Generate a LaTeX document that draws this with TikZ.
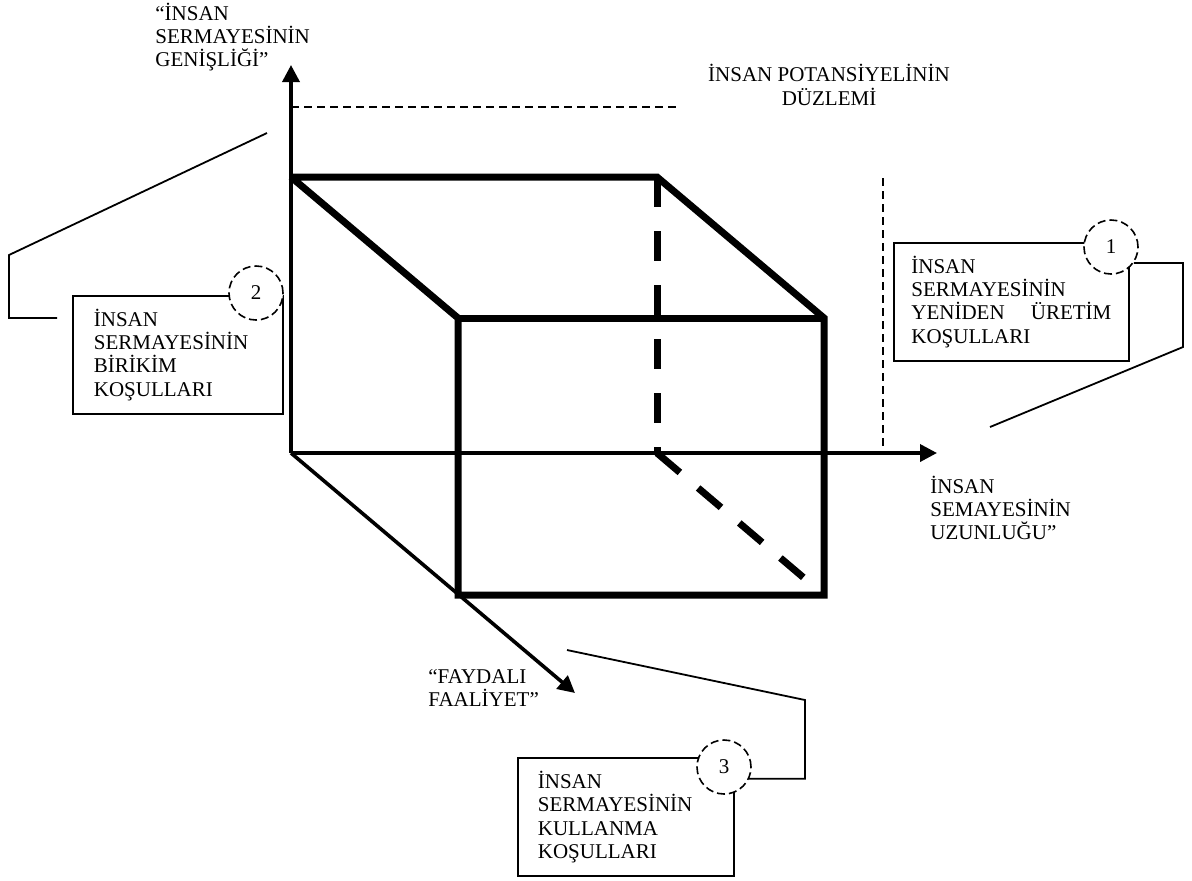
\documentclass[tikz,border=0pt]{standalone}
\usepackage{fontspec}
\setmainfont{Liberation Serif}
\usetikzlibrary{arrows.meta}

\begin{document}
\begin{tikzpicture}[x=0.5pt,y=-0.5pt,
    axis/.style={line width=1.8pt,-{Triangle[length=8.5pt,width=8.5pt]}},
    edge/.style={line width=3.5pt},
    hidden/.style={line width=3.5pt,dash pattern=on 15pt off 12pt},
    plane/.style={line width=0.6pt,dash pattern=on 4pt off 2.5pt},
    callout/.style={line width=0.9pt},
    label/.style={font=\fontsize{10.5}{11.7}\selectfont,inner sep=0pt,align=left},
    cond/.style={draw,line width=0.9pt,anchor=north west,minimum height=59pt,
      inner ysep=0pt,align=left,font=\fontsize{10.5}{11.65}\selectfont},
    num/.style={circle,draw,line width=0.8pt,dash pattern=on 4pt off 2pt,fill=white,
      minimum size=27pt,inner sep=0pt,font=\fontsize{10.5}{12}\selectfont}]
        \useasboundingbox (0,0) rectangle (1192,880);

        \coordinate (O) at (291,453);
        \coordinate (ytip) at (291,65);
        \coordinate (xtip) at (937,453);
        \coordinate (ztip) at (575,693);

        \coordinate (btl) at (291,177);
        \coordinate (btr) at (657,177);
        \coordinate (bbr) at (657,453);
        \coordinate (ftl) at (458,318);
        \coordinate (ftr) at (824,318);
        \coordinate (fbl) at (458,595);
        \coordinate (fbr) at (824,595);

        \draw[axis] (O) -- (ytip);
        \draw[axis] (O) -- (xtip);
        \draw[axis] (O) -- (ztip);

        \draw[edge] (btl) -- (btr) -- (ftr) -- (fbr) -- (fbl) -- (ftl) -- (btl);
        \draw[edge] (ftl) -- (ftr);
        \draw[hidden] (btr) -- (bbr);
        \draw[hidden,shorten >=9pt] (bbr) -- (fbr);

        \draw[plane] (291,107) -- (677,107);
        \draw[plane] (883,178) -- (883,453);

        \node (width) at (155,37) [label,anchor=west] {``İNSAN\\SERMAYESİNİN\\GENİŞLİĞİ''};
        \node (pot) at (829,85) [label,align=center] {İNSAN POTANSİYELİNİN\\DÜZLEMİ};
        \node (length) at (930,508) [label,anchor=west] {İNSAN\\SEMAYESİNİN\\UZUNLUĞU''};
        \node (use) at (428,688) [label,anchor=west] {``FAYDALI\\FAALİYET''};

        \node (box1) at (893,242) [cond,minimum width=117.5pt,inner xsep=7.5pt,text width=100pt]
          {İNSAN\\SERMAYESİNİN\\YENİDEN\hfill ÜRETİM\\KOŞULLARI};
        \node (box2) at (72,295) [cond,minimum width=105pt,inner xsep=10.5pt,text width=84pt]
          {İNSAN\\SERMAYESİNİN\\BİRİKİM\\KOŞULLARI};
        \node (box3) at (517,757) [cond,minimum width=108pt,inner xsep=10pt,text width=88pt]
          {İNSAN\\SERMAYESİNİN\\KULLANMA\\KOŞULLARI};

        \node (c1) at (1111,247) [num] {1};
        \node (c2) at (256,293) [num] {2};
        \node (c3) at (724,767) [num] {3};

        \draw[callout] (267,133) -- (9,255) -- (9,318) -- (57,318);
        \draw[callout] (c1.-35) -| (1183,347) -- (990,427);
        \draw[callout] (c3.-25) -| (805,700) -- (567,650);
      \end{tikzpicture}
\end{document}
